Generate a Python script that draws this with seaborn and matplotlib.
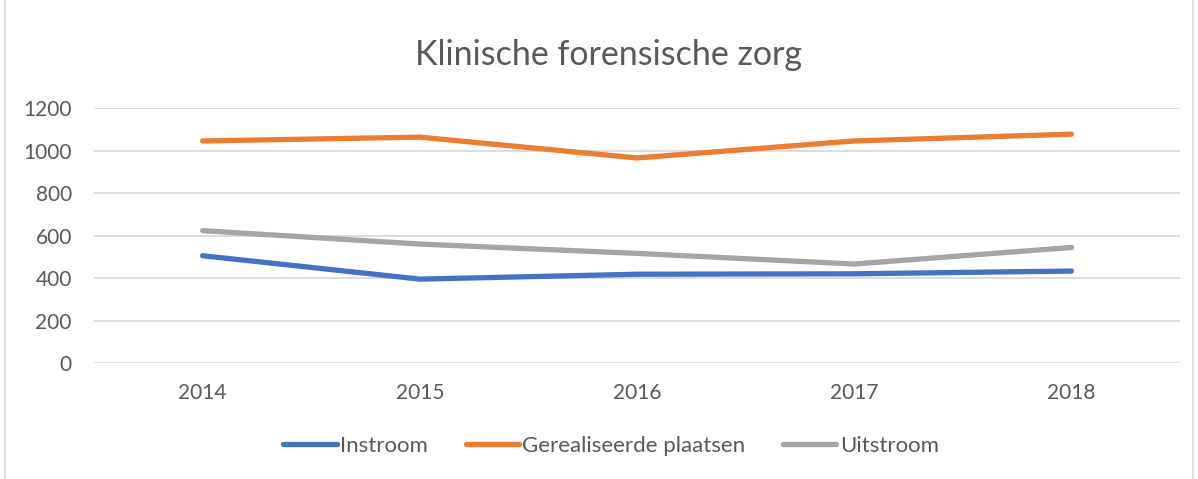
import matplotlib
matplotlib.use("Agg")
import matplotlib.pyplot as plt
import seaborn as sns
import pandas as pd
from matplotlib.patches import Rectangle

years = ["2014", "2015", "2016", "2017", "2018"]
instroom = [505, 395, 418, 420, 433]
gerealiseerd = [1045, 1063, 965, 1045, 1077]
uitstroom = [623, 560, 516, 466, 544]
series_names = ["Instroom", "Gerealiseerde plaatsen", "Uitstroom"]
colors = ["#4472C4", "#ED7D31", "#A5A5A5"]

df = pd.DataFrame({
    "Jaar": years * 3,
    "Waarde": instroom + gerealiseerd + uitstroom,
    "Reeks": [series_names[0]] * 5 + [series_names[1]] * 5 + [series_names[2]] * 5,
})

sns.set_theme(style="white")
plt.rcParams["font.family"] = ["Lato", "DejaVu Sans"]

fig = plt.figure(figsize=(11.98, 4.79), dpi=100)
ax = fig.add_axes([0.0785, 0.242, 0.9065, 0.5325])

sns.lineplot(data=df, x="Jaar", y="Waarde", hue="Reeks", hue_order=series_names,
             palette=colors, linewidth=3.8, sort=False, ax=ax, legend=True)
for ln in ax.get_lines():
    ln.set_solid_capstyle("round")

ax.set_xlim(-0.5, 4.5)
ax.set_ylim(0, 1200)
ax.set_yticks(range(0, 1201, 200))
ax.yaxis.grid(True, color="#D9D9D9", linewidth=1.3)
ax.xaxis.grid(False)
for s in ax.spines.values():
    s.set_visible(False)
ax.tick_params(axis="both", length=0, labelsize=15, labelcolor="#595959")
ax.tick_params(axis="x", pad=14)
ax.tick_params(axis="y", pad=16)
ax.set_xlabel("")
ax.set_ylabel("")

handles, labels = ax.get_legend_handles_labels()
ax.get_legend().remove()
leg = fig.legend(handles, labels, loc="center", bbox_to_anchor=(0.51, 0.069), ncol=3,
                 frameon=False, fontsize=16, handlelength=2.4, handletextpad=0.15,
                 columnspacing=1.7)
for t in leg.get_texts():
    t.set_color("#595959")
for h in leg.legend_handles:
    h.set_linewidth(3.8)
    h.set_solid_capstyle("round")

fig.text(0.508, 0.885, "Klinische forensische zorg", ha="center", va="center",
         fontsize=24.5, color="#595959")

fig.patches.append(Rectangle((0.004, -0.01), 0.992, 1.02, transform=fig.transFigure,
                             fill=False, edgecolor="#D9D9D9", linewidth=1.2))

fig.savefig("out.png", dpi=100)
